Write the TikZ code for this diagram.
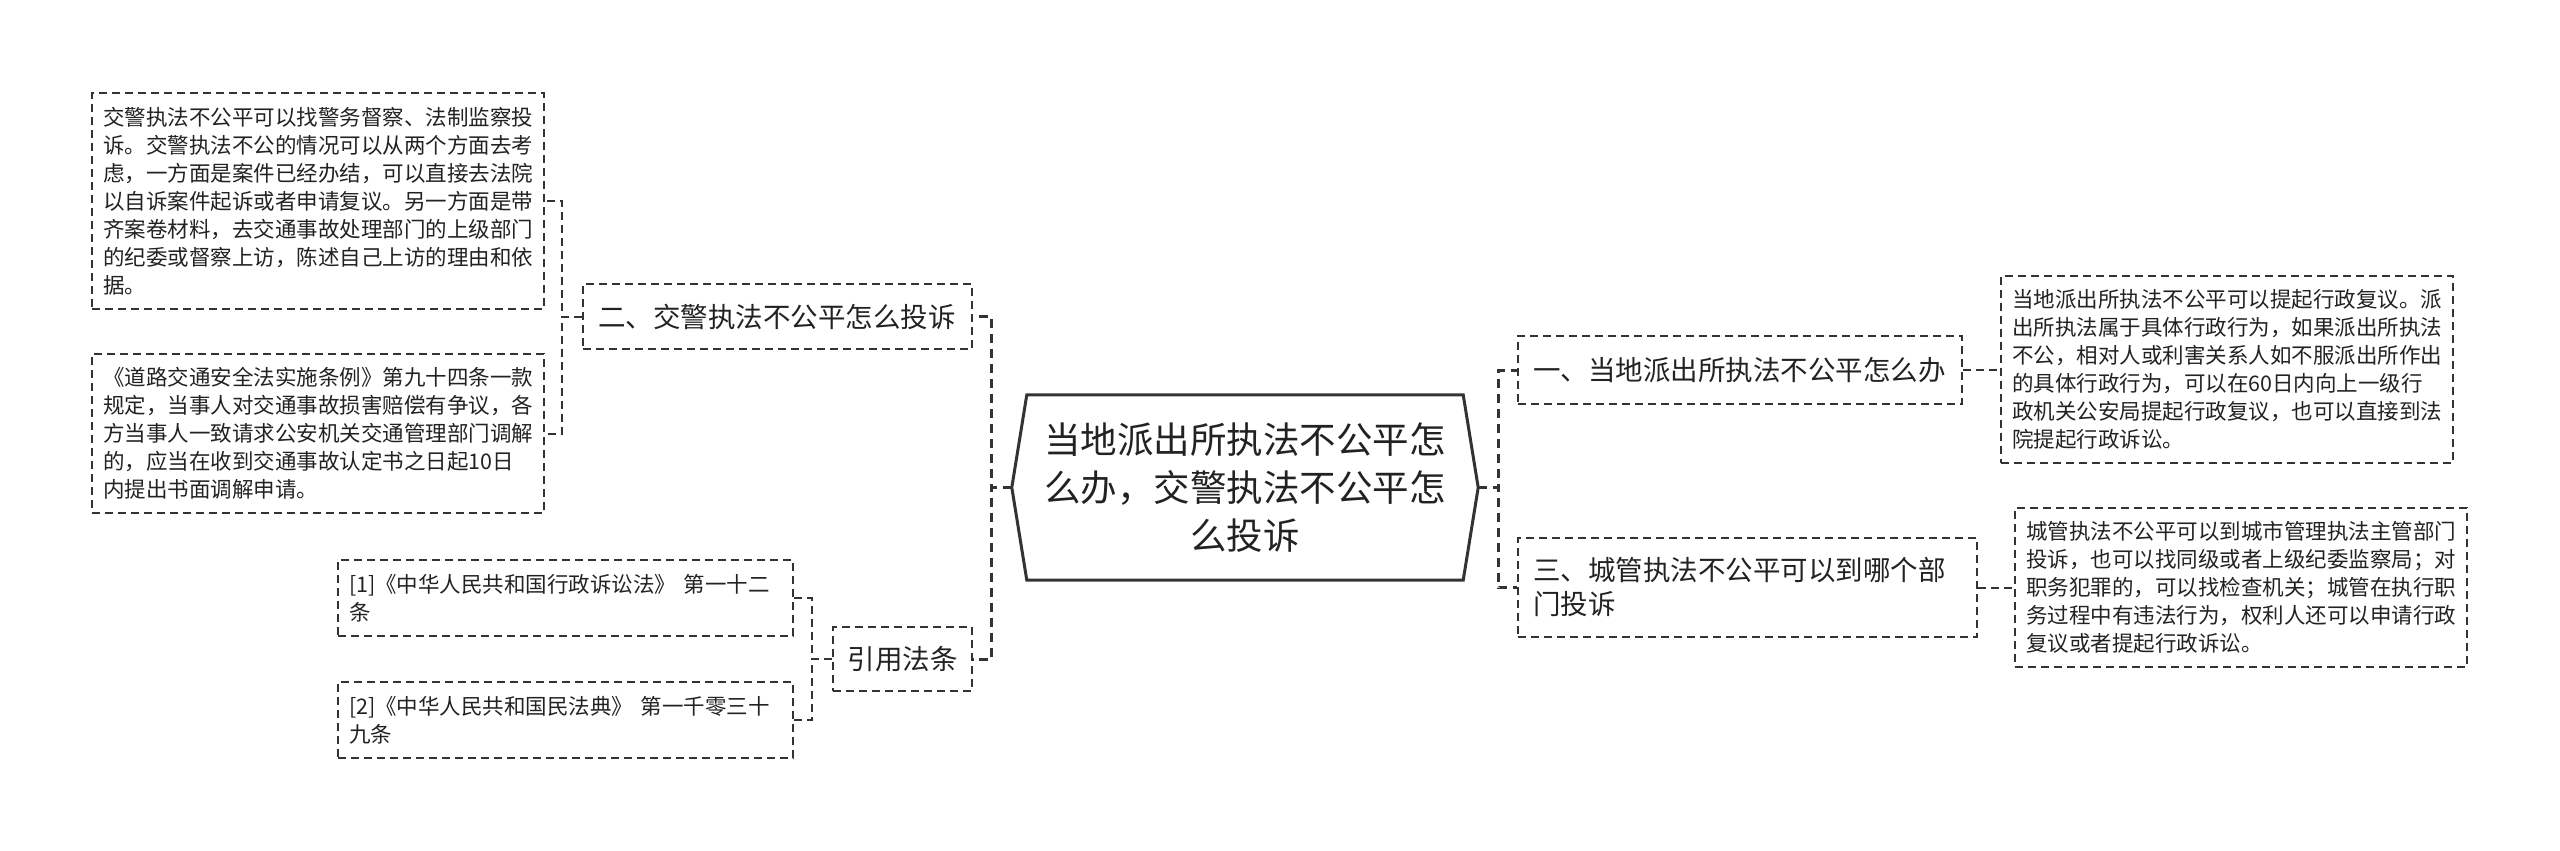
\documentclass[tikz,border=0pt]{standalone}
\usepackage{fontspec}
\setmainfont{Noto Sans CJK SC}
\usetikzlibrary{calc}
\definecolor{ln}{HTML}{333333}
\definecolor{tx}{HTML}{222222}
\begin{document}
\begin{tikzpicture}[x=1pt,y=-1pt,
  box/.style={draw=ln, line width=2pt, dash pattern=on 8pt off 5pt, text=tx, inner xsep=11pt, inner ysep=0pt, align=left},
  leaf/.style={box, font=\fontsize{21.5}{28}\selectfont},
  lvl/.style={box, font=\fontsize{27.5}{34}\selectfont, inner xsep=15pt},
  bus/.style={draw=ln, line width=2pt, dash pattern=on 8pt off 5pt},
  mainbus/.style={draw=ln, line width=3pt, dash pattern=on 9pt off 6pt},
  rootline/.style={draw=ln, line width=3pt, line join=miter},
]
\useasboundingbox (0,0) rectangle (2560,851);

% root
\node[inner sep=0pt, minimum width=436pt, minimum height=185pt, text width=410pt, align=center, text=tx,
      font=\fontsize{36.5}{48}\selectfont] (root) at (1245,487.5)
  {当地派出所执法不公平怎\\么办，交警执法不公平怎\\么投诉};
\coordinate (rootW) at ($(root.west)+(-15,0)$);
\coordinate (rootE) at ($(root.east)+(15,0)$);
\draw[rootline] (root.north west) -- (root.north east) -- (rootE) -- (root.south east)
  -- (root.south west) -- (rootW) -- cycle;

% level 1
\node[lvl, text width=359pt, minimum width=389pt, minimum height=65pt] (n2) at (777.5,316.5)
  {二、交警执法不公平怎么投诉};
\node[lvl, inner xsep=14.5pt, text width=110pt, minimum width=139pt, minimum height=64pt] (cite) at (902.5,659)
  {引用法条};
\node[lvl, text width=414pt, minimum width=444pt, minimum height=68pt] (n1) at (1740,370)
  {一、当地派出所执法不公平怎么办};
\node[lvl, text width=429pt, minimum width=459pt, minimum height=99pt] (n3) at (1747.5,587.5)
  {三、城管执法不公平可以到哪个部\\门投诉};

% leaves left
\node[leaf, text width=430pt, minimum width=452pt, minimum height=216pt] (A) at (318,201)
  {交警执法不公平可以找警务督察、法制监察投\\
   诉。交警执法不公的情况可以从两个方面去考\\
   虑，一方面是案件已经办结，可以直接去法院\\
   以自诉案件起诉或者申请复议。另一方面是带\\
   齐案卷材料，去交通事故处理部门的上级部门\\
   的纪委或督察上访，陈述自己上访的理由和依\\
   据。};
\node[leaf, text width=430pt, minimum width=452pt, minimum height=159pt] (B) at (318,433.5)
  {《道路交通安全法实施条例》第九十四条一款\\
   规定，当事人对交通事故损害赔偿有争议，各\\
   方当事人一致请求公安机关交通管理部门调解\\
   的，应当在收到交通事故认定书之日起10日\\
   内提出书面调解申请。};
\node[leaf, text width=433pt, minimum width=455pt, minimum height=76pt] (L1) at (565.5,598)
  {[1]《中华人民共和国行政诉讼法》 第一十二\\条};
\node[leaf, text width=433pt, minimum width=455pt, minimum height=76pt] (L2) at (565.5,720)
  {[2]《中华人民共和国民法典》 第一千零三十\\九条};

% leaves right
\node[leaf, text width=430pt, minimum width=452pt, minimum height=187pt] (R1) at (2227,369)
  {当地派出所执法不公平可以提起行政复议。派\\
   出所执法属于具体行政行为，如果派出所执法\\
   不公，相对人或利害关系人如不服派出所作出\\
   的具体行政行为，可以在60日内向上一级行\\
   政机关公安局提起行政复议，也可以直接到法\\
   院提起行政诉讼。};
\node[leaf, text width=430pt, minimum width=452pt, minimum height=159pt] (R3) at (2241,587.5)
  {城管执法不公平可以到城市管理执法主管部门\\
   投诉，也可以找同级或者上级纪委监察局；对\\
   职务犯罪的，可以找检查机关；城管在执行职\\
   务过程中有违法行为，权利人还可以申请行政\\
   复议或者提起行政诉讼。};

% connectors
\draw[mainbus] (rootW) -- ++(-20,0) |- (n2.east);
\draw[mainbus] (rootW) -- ++(-20,0) |- (cite.east);
\draw[mainbus] (rootE) -- ++(20,0) |- (n1.west);
\draw[mainbus] (rootE) -- ++(20,0) |- (n3.west);
\draw[bus] (n2.west) -- ++(-20,0) |- (A.east);
\draw[bus] (n2.west) -- ++(-20,0) |- (B.east);
\draw[bus] (cite.west) -- ++(-20,0) |- (L1.east);
\draw[bus] (cite.west) -- ++(-20,0) |- (L2.east);
\draw[bus] (n1.east) -- (n1.east -| R1.west);
\draw[bus] (n3.east) -- (n3.east -| R3.west);
\end{tikzpicture}
\end{document}
